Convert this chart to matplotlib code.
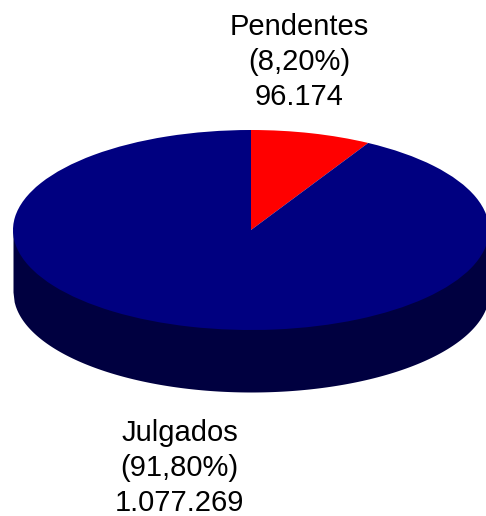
import matplotlib
matplotlib.use('Agg')
import matplotlib.pyplot as plt
import numpy as np

labels = ['Pendentes', 'Julgados']
values = [96174, 1077269]
percents = ['8,20%', '91,80%']
colors = ['#ff0000', '#000080']
side_color = '#000040'

plt.rcParams['font.family'] = ['Liberation Sans', 'DejaVu Sans']

fig = plt.figure(figsize=(4.86, 5.16), dpi=100)
ax = fig.add_axes([0, 0, 1, 1])

# side of the disc, runs up behind the top ellipse so no seam shows
depth = 0.62
xs = np.linspace(-1, 1, 400)
ax.fill_between(xs, -np.sqrt(1 - xs**2) - depth, 0, color=side_color, lw=0)

ax.pie(values, colors=colors, startangle=90, counterclock=False, radius=1, center=(0, 0))
ax.set_aspect('auto')

# 238 px per x unit, 100 px per y unit, centre at (251, 230)
ax.set_xlim(-251 / 238, 235 / 238)
ax.set_ylim(-286 / 100, 230 / 100)
ax.axis('off')


def fmt(v):
    return f'{v:,}'.replace(',', '.')


ax.text(0.204, 1.68, f'{labels[0]}\n({percents[0]})\n{fmt(values[0])}', ha='center', va='center',
        fontsize=21, linespacing=1.3)
ax.text(-0.3, -2.38, f'{labels[1]}\n({percents[1]})\n{fmt(values[1])}', ha='center', va='center',
        fontsize=21, linespacing=1.3)

fig.savefig('out.png', dpi=100)
